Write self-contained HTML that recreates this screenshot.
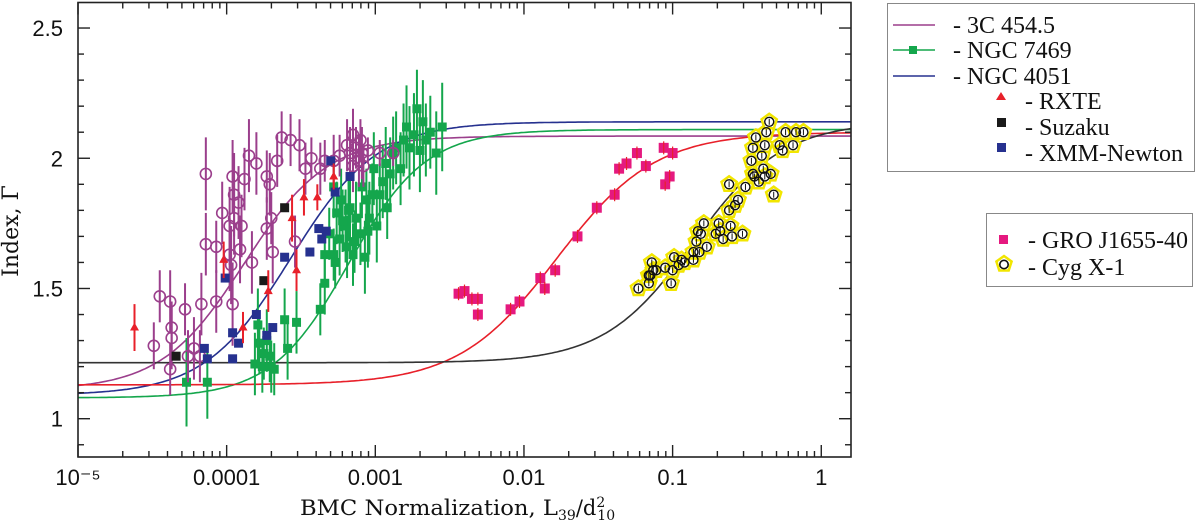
<!DOCTYPE html>
<html><head><meta charset="utf-8"><style>
html,body{margin:0;padding:0;background:#fff;}
svg{display:block;}
text{font-family:"Liberation Sans",sans-serif;}
.leg{font-family:"Liberation Serif",serif;font-size:24px;fill:#111;}
</style></head><body>
<svg id="chart" width="1200" height="524" viewBox="0 0 1200 524" xmlns="http://www.w3.org/2000/svg">
<g id="curves"></g>
<g id="points"></g>
<g id="axes"></g>
<text transform="translate(18,231) rotate(-90)" text-anchor="middle" font-size="22" fill="#111" style="font-family:'DejaVu Serif',serif">Index, Γ</text>
<text x="300" y="515" font-size="21" fill="#111" style="font-family:'DejaVu Serif',serif"><tspan textLength="258" lengthAdjust="spacingAndGlyphs">BMC Normalization, L</tspan><tspan font-size="14" dy="5">39</tspan><tspan dy="-5">/d</tspan><tspan font-size="14" dy="-8">2</tspan><tspan font-size="14" dx="-8" dy="13">10</tspan></text>
<g>
<rect x="887.5" y="3.5" width="307" height="168" fill="#fff" stroke="#888" stroke-width="1"/>
<g><line x1="893" y1="25" x2="935" y2="25" stroke="#9b3f8c" stroke-width="1.5"/><text class="leg" x="953" y="33">- 3C 454.5</text></g>
<g><line x1="893" y1="50" x2="935" y2="50" stroke="#14a64c" stroke-width="1.5"/><rect x="909" y="46" width="8" height="8" fill="#14a64c"/><text class="leg" x="953" y="58">- NGC 7469</text></g>
<g><line x1="893" y1="76" x2="935" y2="76" stroke="#26318f" stroke-width="1.5"/><text class="leg" x="953" y="84">- NGC 4051</text></g>
<g><polygon points="1001,92 1006,100 996,100" fill="#e8202a"/><text class="leg" x="1025" y="109">- RXTE</text></g>
<g><rect x="997" y="118" width="9" height="9" fill="#1a1a1a"/><text class="leg" x="1025" y="135">- Suzaku</text></g>
<g><rect x="997" y="143" width="9" height="9" fill="#26318f"/><text class="leg" x="1025" y="161">- XMM-Newton</text></g>
</g>
<g>
<rect x="986.5" y="213.5" width="206" height="73" fill="#fff" stroke="#888" stroke-width="1"/>
<g><rect x="999" y="235" width="9" height="9" fill="#e5197f"/><text class="leg" x="1028" y="248">- GRO J1655-40</text></g>
<g><polygon points="1004,256 1011.6,261.5 1008.7,270.5 999.3,270.5 996.4,261.5" fill="#fff" stroke="#f2e600" stroke-width="2.5"/><circle cx="1004" cy="264.5" r="4.2" fill="none" stroke="#111" stroke-width="1.6"/><text class="leg" x="1028" y="275">- Cyg X-1</text></g>
</g>
</svg>
<script>
// ---- data (log10 BMC normalization, photon index, error) ----
const xTickLabels = ["10\u207B\u2075","0.0001","0.001","0.01","0.1","1"];
const yTickLabels = ["1","1.5","2","2.5"];
const yTickValues = [1,1.5,2,2.5];

const c3cX = [-4.49,-4.45,-4.38,-4.37,-4.37,-4.38,-4.28,-4.26,-4.22,-4.18,-4.17,-4.14,-4.14,-4.07,-4.07,-4.03,-3.98,-3.98,-3.97,-3.96,-3.96,-3.95,-3.95,-3.92,-3.91,-3.90,-3.88,-3.85,-3.83,-3.80,-3.73,-3.73,-3.71,-3.70,-3.69,-3.66,-3.63,-3.57,-3.54,-3.51,-3.47,-3.43,-3.37,-3.34,-3.28,-3.24,-3.19,-3.17,-3.15,-3.15,-3.13,-3.11,-3.10,-3.09,-3.08,-3.05,-2.97,-2.88];
const c3cY = [1.28,1.47,1.45,1.35,1.31,1.19,1.42,1.24,1.27,1.24,1.44,1.94,1.67,1.66,1.45,1.79,1.74,1.63,1.59,1.44,1.93,1.86,1.77,1.83,1.65,1.74,1.92,2.01,1.60,1.98,1.93,1.73,1.90,1.77,1.64,1.99,2.08,2.07,1.68,2.05,1.96,2.00,1.96,1.99,1.99,2.01,2.05,2.02,2.09,1.97,2.04,1.99,2.07,2.02,1.97,2.03,2.02,2.02];
const c3cE = [0.09,0.1,0.12,0.1,0.12,0.1,0.1,0.1,0.12,0.1,0.12,0.14,0.12,0.1,0.12,0.12,0.15,0.14,0.15,0.16,0.14,0.16,0.14,0.14,0.13,0.12,0.12,0.14,0.12,0.12,0.1,0.12,0.12,0.1,0.12,0.1,0.1,0.1,0.1,0.1,0.1,0.08,0.1,0.08,0.1,0.08,0.1,0.1,0.1,0.1,0.08,0.1,0.08,0.1,0.08,0.05,0.05,0.05];

const ngcX = [-4.27,-4.13,-3.81,-3.79,-3.78,-3.76,-3.75,-3.73,-3.71,-3.70,-3.68,-3.61,-3.59,-3.53,-3.37,-3.34,-3.34,-3.31,-3.28,-3.27,-3.28,-3.26,-3.24,-3.23,-3.20,-3.19,-3.17,-3.15,-3.13,-3.10,-3.09,-3.07,-3.06,-3.04,-3.01,-2.99,-2.97,-2.95,-2.92,-2.90,-2.88,-2.86,-2.83,-2.81,-2.79,-2.77,-2.74,-2.72,-2.70,-2.68,-2.66,-2.63,-2.59,-2.55,-3.22,-3.14,-3.05,-3.18,-3.02,-2.93];
const ngcY = [1.14,1.14,1.21,1.36,1.29,1.20,1.25,1.30,1.24,1.20,1.19,1.38,1.27,1.37,1.42,1.52,1.63,1.71,1.63,1.60,1.89,1.79,1.69,1.84,1.74,1.66,1.81,1.63,1.77,1.71,1.89,1.62,1.84,1.77,1.96,1.74,1.86,1.91,1.81,1.94,2.02,2.04,1.96,2.07,2.12,2.04,2.09,2.19,2.03,2.14,2.07,2.10,2.02,2.12,1.76,1.68,1.72,1.80,1.86,1.98];
const ngcE = [0.17,0.14,0.12,0.14,0.12,0.1,0.1,0.12,0.1,0.1,0.1,0.12,0.12,0.12,0.1,0.12,0.1,0.1,0.1,0.1,0.12,0.12,0.14,0.12,0.14,0.12,0.14,0.12,0.14,0.12,0.12,0.14,0.12,0.14,0.14,0.14,0.12,0.14,0.12,0.14,0.14,0.14,0.14,0.14,0.16,0.16,0.16,0.15,0.16,0.16,0.14,0.14,0.16,0.17,0.12,0.12,0.14,0.12,0.12,0.14];

const xmmX = [-4.15,-4.13,-4.01,-3.96,-3.96,-3.92,-3.80,-3.73,-3.69,-3.61,-3.44,-3.38,-3.36,-3.33,-3.27,-3.30,-3.17];
const xmmY = [1.27,1.23,1.54,1.33,1.23,1.29,1.40,1.32,1.35,1.62,1.64,1.73,1.69,1.72,1.87,1.99,1.93];

const rxteX = [-4.62,-4.02,-3.89,-3.72,-3.56,-3.53,-3.48,-3.39,-3.28];
const rxteY = [1.35,1.61,1.35,1.49,1.77,1.57,1.85,1.85,1.93];
const rxteE = [0.09,0.07,0.06,0.08,0.09,0.08,0.07,0.05,0.05];

const suzX = [-4.34,-3.75,-3.61];
const suzY = [1.24,1.53,1.81];

const groX = [-2.44,-2.40,-2.35,-2.31,-2.31,-2.09,-2.03,-1.89,-1.86,-1.79,-1.64,-1.51,-1.39,-1.36,-1.31,-1.24,-1.18,-1.06,-1.00,-1.05,-1.02];
const groY = [1.48,1.49,1.46,1.46,1.40,1.42,1.45,1.54,1.50,1.57,1.70,1.81,1.86,1.96,1.98,2.02,1.97,2.04,2.02,1.90,1.93];

const cygX = [-1.23,-1.16,-1.16,-1.15,-1.14,-1.13,-1.11,-1.05,-1.01,-1.00,-0.99,-0.96,-0.94,-0.92,-0.86,-0.86,-0.84,-0.83,-0.82,-0.81,-0.79,-0.77,-0.71,-0.69,-0.68,-0.66,-0.61,-0.60,-0.53,-0.62,-0.62,-0.58,-0.56,-0.51,-0.47,-0.46,-0.46,-0.44,-0.45,-0.42,-0.40,-0.39,-0.38,-0.37,-0.35,-0.34,-0.32,-0.28,-0.26,-0.24,-0.19,-0.17,-0.12,-0.38];
const cygY = [1.50,1.55,1.52,1.55,1.60,1.57,1.57,1.58,1.52,1.57,1.62,1.59,1.61,1.60,1.61,1.64,1.68,1.72,1.64,1.71,1.75,1.66,1.71,1.75,1.72,1.69,1.74,1.70,1.71,1.90,1.80,1.82,1.84,1.89,1.99,1.94,2.04,2.08,1.93,1.91,2.01,1.96,2.05,2.10,2.14,1.94,1.86,2.05,2.03,2.10,2.05,2.10,2.10,1.93];

// fit curves: [low, high, midpoint(log10), width]
const fitNames = ["fit-3c454","fit-ngc4051","fit-ngc7469","fit-gro-j1655","fit-cyg-x1"];
const fitLow  = [1.11,1.09,1.08,1.13,1.215];
const fitHigh = [2.085,2.14,2.11,2.10,2.14];
const fitMid  = [-3.88,-3.57,-3.18,-1.78,-0.86];
const fitWid  = [0.28,0.29,0.26,0.33,0.30];
const fitColor = ["#9b3f8c","#26318f","#14a64c","#e8202a","#333333"];

// ---- layout ----
const L=78, R=851, T=2.5, B=457;
const xMin=-5, xMax=0.2, yMin=0.853, yMax=2.598;
const sx = v => L + (v - xMin) / (xMax - xMin) * (R - L);
const sy = v => B - (v - yMin) / (yMax - yMin) * (B - T);
const NS="http://www.w3.org/2000/svg";
function mk(tag, attrs, parent){const e=document.createElementNS(NS,tag);for(const k in attrs)e.setAttribute(k,attrs[k]);parent.appendChild(e);return e;}

const gC=document.getElementById('curves'), gP=document.getElementById('points'), gA=document.getElementById('axes');

for(let i=0;i<fitNames.length;i++){
  let d="";
  for(let p=0;p<=300;p++){
    const lx = xMin + (xMax-xMin)*p/300;
    const y = fitLow[i] + (fitHigh[i]-fitLow[i])/(1+Math.exp(-(lx-fitMid[i])/fitWid[i]));
    d += (p?"L":"M")+sx(lx).toFixed(1)+","+sy(y).toFixed(1);
  }
  const c=mk('path',{d:d,fill:'none',stroke:fitColor[i],'stroke-width':1.6},gC);
  
  
}

function errbar(g,x,y,e,col,w){mk('line',{x1:sx(x),x2:sx(x),y1:sy(y+e),y2:sy(y-e),stroke:col,'stroke-width':w||2},g);}

const gN=mk('g',{},gP);


for(let i=0;i<ngcX.length;i++){
  errbar(gN,ngcX[i],ngcY[i],ngcE[i],'#14a64c',2);
  const r=mk('rect',{x:sx(ngcX[i])-4.5,y:sy(ngcY[i])-4.5,width:9,height:9,fill:'#14a64c'},gN);
  
  
}
const g3=mk('g',{},gP);


for(let i=0;i<c3cX.length;i++){
  errbar(g3,c3cX[i],c3cY[i],c3cE[i],'#9b3f8c',2);
  const c=mk('circle',{cx:sx(c3cX[i]),cy:sy(c3cY[i]),r:5.5,fill:'#fff','fill-opacity':0,stroke:'#9b3f8c','stroke-width':1.6},g3);
  
  
}
const gX=mk('g',{},gP);


for(let i=0;i<xmmX.length;i++){
  const r=mk('rect',{x:sx(xmmX[i])-4.5,y:sy(xmmY[i])-4.5,width:9,height:9,fill:'#26318f'},gX);
  
  
}
const gS=mk('g',{},gP);


for(let i=0;i<suzX.length;i++){
  const r=mk('rect',{x:sx(suzX[i])-4.5,y:sy(suzY[i])-4.5,width:9,height:9,fill:'#1a1a1a'},gS);
  
  
}
const gR=mk('g',{},gP);


for(let i=0;i<rxteX.length;i++){
  errbar(gR,rxteX[i],rxteY[i],rxteE[i],'#e8202a',2);
  const x=sx(rxteX[i]), y=sy(rxteY[i]);
  const t=mk('polygon',{points:`${x},${y-5} ${x+4.5},${y+3} ${x-4.5},${y+3}`,fill:'#e8202a'},gR);
  
  
}
const gG=mk('g',{},gP);


for(let i=0;i<groX.length;i++){
  const r=mk('rect',{x:sx(groX[i])-5,y:sy(groY[i])-5,width:10,height:10,fill:'#e5197f'},gG);
  
  
  errbar(gG,groX[i],groY[i],0.025,'#e8202a',1.2);
}
const gY=mk('g',{},gP);


for(let i=0;i<cygX.length;i++){
  const x=sx(cygX[i]), y=sy(cygY[i]); let pts="";
  for(let k=0;k<5;k++){const a=-Math.PI/2+k*2*Math.PI/5;pts+=(x+8*Math.cos(a)).toFixed(1)+","+(y+8*Math.sin(a)).toFixed(1)+" ";}
  mk('polygon',{points:pts,fill:'#fff',stroke:'#f2e600','stroke-width':2.5},gY);
}
for(let i=0;i<cygX.length;i++){
  const x=sx(cygX[i]), y=sy(cygY[i]);
  const c=mk('circle',{cx:x,cy:y,r:4.5,fill:'none',stroke:'#111','stroke-width':1.4},gY);
  
  
  mk('line',{x1:x,x2:x,y1:y-3,y2:y+3,stroke:'#111','stroke-width':1},gY);
}

const fr=mk('rect',{x:L,y:T,width:R-L,height:B-T,fill:'none',stroke:'#222','stroke-width':1.6},gA);


for(let dec=-5; dec<=0; dec++){
  for(let m=1;m<=9;m++){
    const v=dec+Math.log10(m); if(v>xMax) break;
    const len = m===1?12:6, x=sx(v);
    mk('line',{x1:x,x2:x,y1:B,y2:B-len,stroke:'#222','stroke-width':1.4},gA);
    mk('line',{x1:x,x2:x,y1:T,y2:T+len,stroke:'#222','stroke-width':1.4},gA);
  }
}
for(let k=0;k<xTickLabels.length;k++){
  const t=mk('text',{x:sx(-5+k),y:485,'text-anchor':'middle','font-size':22,fill:'#111'},gA);
  t.textContent=xTickLabels[k];
  
  
}
for(let v=0.9; v<=2.55; v+=0.1){
  const major = Math.abs(v*2-Math.round(v*2))<1e-6, len=major?12:6, y=sy(v);
  mk('line',{x1:L,x2:L+len,y1:y,y2:y,stroke:'#222','stroke-width':1.4},gA);
  mk('line',{x1:R,x2:R-len,y1:y,y2:y,stroke:'#222','stroke-width':1.4},gA);
}
for(let k=0;k<yTickLabels.length;k++){
  const t=mk('text',{x:63,y:sy(yTickValues[k])+8,'text-anchor':'end','font-size':22,fill:'#111'},gA);
  t.textContent=yTickLabels[k];
  
  
}
</script>
</body></html>
